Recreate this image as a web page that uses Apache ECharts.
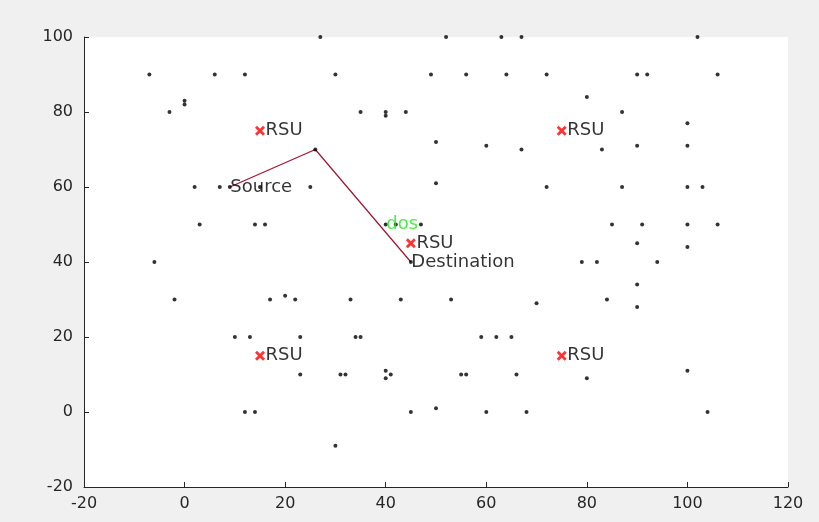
<!DOCTYPE html>
<html>
<head>
<meta charset="utf-8">
<script src="https://cdn.jsdelivr.net/npm/echarts@6/dist/echarts.min.js"></script>
<style>
html,body{margin:0;padding:0;background:#f0f0f0;}
#chart{width:819px;height:522px;}
</style>
</head>
<body>
<div id="chart"></div>
<script>
// Vehicle / node positions (black dots)
const dotX = [27,52,63,67,102,
  -7,6,12,30,49,56,64,72,90,92,106,
  80,0,0,
  -3,35,40,40,44,87,
  100,
  50,60,90,100,
  26,67,83,
  50,
  2,7,9,15,25,72,87,100,103,
  3,14,16,40,42,47,85,91,100,106,
  90,100,
  -6,45,79,82,94,
  90,20,
  -2,17,22,33,43,53,84,
  70,90,
  10,13,23,34,35,59,62,65,
  40,100,
  23,31,32,41,55,56,66,
  40,80,
  50,
  12,14,45,60,68,104,
  30];
const dotY = [100,100,100,100,100,
  90,90,90,90,90,90,90,90,90,90,90,
  84,83,82,
  80,80,80,79,80,80,
  77,
  72,71,71,71,
  70,70,70,
  61,
  60,60,60,60,60,60,60,60,60,
  50,50,50,50,50,50,50,50,50,50,
  45,44,
  40,40,40,40,40,
  34,31,
  30,30,30,30,30,30,30,
  29,28,
  20,20,20,20,20,20,20,20,
  11,11,
  10,10,10,10,10,10,10,
  9,9,
  1,
  0,0,0,0,0,0,
  -9];

// Road side units (red crosses)
const rsuX = [15,75,15,75,45];
const rsuY = [75,75,15,15,45];

// Routing path Source -> relay -> Destination
const pathX = [9,26,45];
const pathY = [60,70,40];

// Text annotations
const textNames = ['RSU','RSU','RSU','RSU','RSU','Source','Destination','dos'];
const textX = [16,76,16,76,46,9,45,40];
const textY = [75,75,15,15,45,60,40,50];
const textColors = ['#000','#000','#000','#000','#000','#000','#000','#1ee81e'];

// Axis ticks
const xTicks = {min:-20,max:120,step:20};
const yTicks = {min:-20,max:100,step:20};

const FONT = 'DejaVu Sans';

const chart = echarts.init(document.getElementById('chart'), null, {renderer:'canvas'});

const crossPath = 'path://M0,2 L2,0 L5,3 L8,0 L10,2 L7,5 L10,8 L8,10 L5,7 L2,10 L0,8 L3,5 Z';

const option = {
  backgroundColor:'#f0f0f0',
  animation:false,
  grid:{left:84,right:31,top:37,bottom:35,show:true,backgroundColor:'#ffffff',borderWidth:0},
  xAxis:{
    type:'value',min:xTicks.min,max:xTicks.max,interval:xTicks.step,
    axisLine:{show:true,onZero:false,lineStyle:{color:'#262626',width:1}},
    axisTick:{show:true,inside:true,length:5,lineStyle:{color:'#262626'}},
    axisLabel:{color:'#262626',fontFamily:FONT,fontSize:16,margin:9},
    splitLine:{show:false}
  },
  yAxis:{
    type:'value',min:yTicks.min,max:yTicks.max,interval:yTicks.step,
    axisLine:{show:true,onZero:false,lineStyle:{color:'#262626',width:1}},
    axisTick:{show:true,inside:true,length:5,lineStyle:{color:'#262626'}},
    axisLabel:{color:'#262626',fontFamily:FONT,fontSize:16,margin:11},
    splitLine:{show:false}
  },
  series:[
    {
      type:'line',
      data:pathX.map((x,i)=>[x,pathY[i]]),
      symbol:'none',
      lineStyle:{color:'#a2142f',width:1.2},
      z:3
    },
    {
      type:'scatter',
      data:dotX.map((x,i)=>[x,dotY[i]]),
      symbol:'circle',
      symbolSize:4,
      itemStyle:{color:'#000'},
      z:4
    },
    {
      type:'scatter',
      data:rsuX.map((x,i)=>[x,rsuY[i]]),
      symbol:crossPath,
      symbolSize:10,
      itemStyle:{color:'#ff0000'},
      z:5
    },
    {
      type:'scatter',
      data:textX.map((x,i)=>({value:[x,textY[i]],name:textNames[i],
        label:{color:textColors[i]}})),
      symbolSize:1,
      itemStyle:{color:'rgba(0,0,0,0)'},
      label:{show:true,position:'right',distance:0,formatter:p=>p.name,
        fontFamily:FONT,fontSize:18},
      z:6
    }
  ]
};
chart.setOption(option);
</script>
</body>
</html>
